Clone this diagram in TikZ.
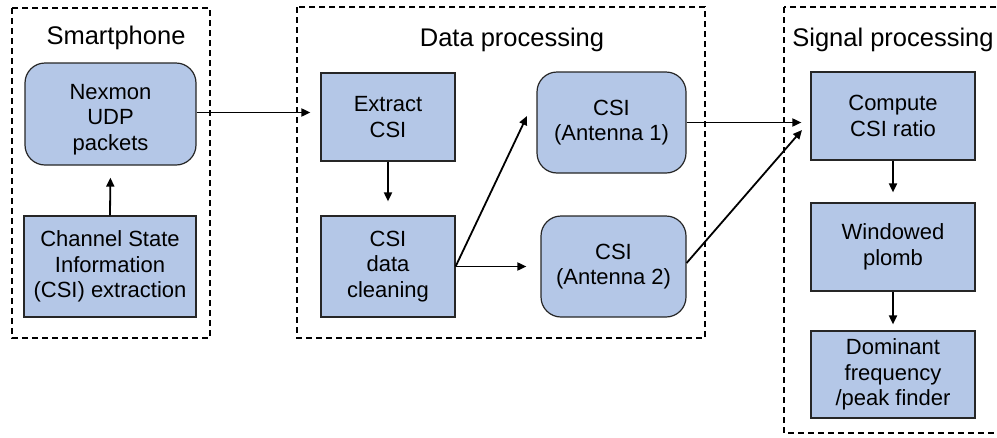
\documentclass[tikz,border=0pt]{standalone}
\usepackage{fontspec}
\setmainfont{Liberation Sans}
\usetikzlibrary{arrows.meta}
\definecolor{boxfill}{HTML}{B4C7E7}
\begin{document}
\begin{tikzpicture}[x=1pt,y=-1pt,
  blk/.style={draw=black!85,line width=1.2pt,fill=boxfill,align=center,inner sep=0pt,
    font=\fontsize{22}{25.5}\selectfont},
  rblk/.style={blk,rounded corners=20pt},
  grp/.style={draw=black,line width=1.6pt,dash pattern=on 6pt off 4pt},
  ttl/.style={font=\fontsize{25.5}{28}\selectfont,inner sep=0pt},
  arr/.style={line width=1.8pt,-{Triangle[length=9pt,width=8pt]}}]
\useasboundingbox (0,0) rectangle (997,437);
% group boxes
\draw[grp] (12,8) rectangle (210,338);
\draw[grp] (297,7) rectangle (705,338);
\draw[grp] (784,7) rectangle (1004,433);
\node[ttl] (tsmart) at (116,38) {Smartphone};
\node[ttl] (tdata) at (512,40) {Data processing};
\node[ttl] (tsig) at (893,40) {Signal processing};
% nodes
\node[rblk,minimum width=171pt,minimum height=102pt] (nexmon) at (110.5,114) {\rule{0pt}{26pt}Nexmon\\UDP\\packets};
\node[blk,minimum width=172pt,minimum height=101pt] (csiext) at (110,266.5) {Channel State\\Information\\(CSI) extraction};
\node[blk,minimum width=134pt,minimum height=88pt] (extract) at (388,117) {Extract\\CSI};
\node[blk,minimum width=134pt,minimum height=101pt] (clean) at (388,266.5) {CSI\\data\\cleaning};
\node[rblk,minimum width=149pt,minimum height=101pt] (ant1) at (611.5,122.5) {CSI\\(Antenna 1)};
\node[rblk,minimum width=145pt,minimum height=101pt] (ant2) at (613.5,266.5) {CSI\\(Antenna 2)};
\node[blk,minimum width=164pt,minimum height=88pt] (ratio) at (893,116) {Compute\\CSI ratio};
\node[blk,minimum width=164pt,minimum height=88pt] (wind) at (893,247) {Windowed\\plomb};
\node[blk,minimum width=164pt,minimum height=87pt] (dom) at (893,374.5) {Dominant\\frequency\\/peak finder};
% free arrow ends
\coordinate (tipa1) at (527,116);
\coordinate (tipr2) at (802,130);
% connectors
\draw[arr,shorten >=12pt] (csiext.north) -- (nexmon.south);
\draw[arr,shorten >=10pt] ([yshift=1.5pt]nexmon.east) -- ([yshift=1.5pt]nexmon.east -| extract.west);
\draw[arr,shorten >=14pt] (extract.south) -- (clean.north);
\draw[arr] (clean.east) -- (tipa1);
\draw[arr,shorten >=14pt] (clean.east) -- (ant2.west);
\draw[arr,shorten >=9pt] (ant1.east) -- (ant1.east -| ratio.west);
\draw[arr] ([yshift=3.5pt]ant2.east) -- (tipr2);
\draw[arr,shorten >=10pt] (ratio.south) -- (wind.north);
\draw[arr,shorten >=6pt] (wind.south) -- (dom.north);
\end{tikzpicture}
\end{document}
